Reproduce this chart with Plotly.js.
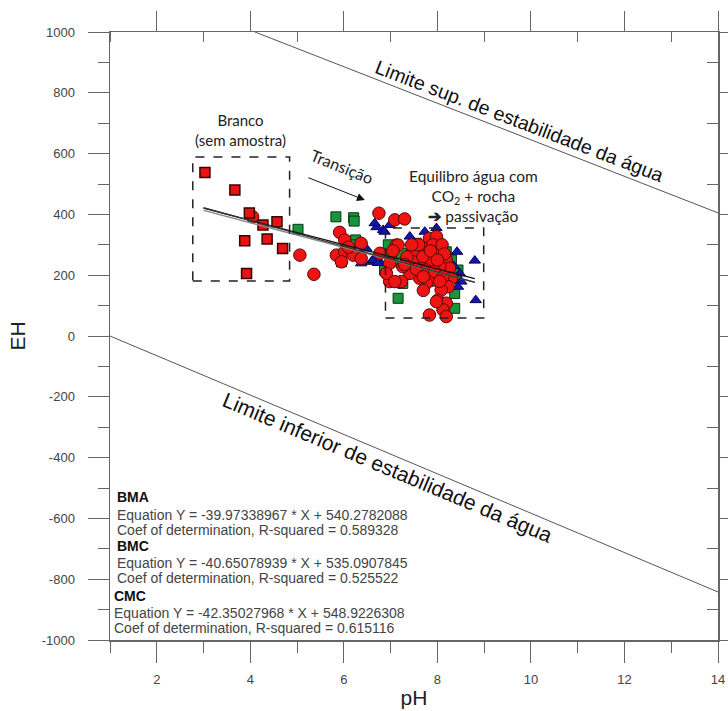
<!DOCTYPE html>
<html>
<head>
<meta charset="utf-8">
<script src="https://cdn.plot.ly/plotly-3.0.1.min.js"></script>
<style>html,body{margin:0;padding:0;background:#fff;}#chart{width:728px;height:711px;}</style>
</head>
<body>
<div id="chart"></div>
<script>
// ---- data (pH, EH in mV) ----
const brancoPH = [3.03, 3.67, 3.98, 4.27, 4.57, 3.88, 4.36, 4.69, 3.92];
const brancoEH = [538, 480, 405, 365, 376, 313, 319, 288, 206];

const bmcPH = [5.02, 5.83, 6.21, 6.22, 6.25, 6.15, 5.95, 6.91, 7.05, 7.16, 6.87, 6.98, 7.23, 7.55, 8.19, 8.37, 8.44, 8.37, 8.30, 7.80, 7.26, 6.95, 8.40];
const bmcEH = [351, 392, 389, 378, 316, 300, 244, 212, 244, 124, 217, 272, 272, 305, 277, 91, 217, 140, 250, 180, 173, 300, 190];

const bmaPH = [6.70, 6.84, 6.98, 6.48, 6.37, 6.59, 6.77, 6.62, 6.73, 7.41, 7.73, 8.42, 8.80, 8.82, 8.48, 8.51, 8.44, 6.66, 6.87, 7.98, 8.35];
const bmaEH = [358, 349, 365, 288, 239, 244, 244, 250, 240, 327, 343, 277, 248, 118, 206, 179, 162, 371, 343, 355, 230];

const cmcPH = [4.05, 5.06, 5.36, 5.91, 6.02, 6.37, 5.84, 6.02, 6.20, 6.37, 5.95, 6.10, 6.77, 6.98, 7.12, 6.75, 7.09, 7.30,
  7.16, 7.48, 7.83, 7.98, 7.73, 8.01, 8.19, 8.26, 8.30, 8.23, 8.08, 7.94, 7.76, 7.62, 7.41, 7.26, 6.98, 7.23, 7.62, 7.87,
  8.05, 7.48, 7.69, 7.76, 7.94, 8.12, 8.01, 8.19, 8.12, 8.19, 7.83, 7.90, 7.60, 8.10, 7.35, 7.55, 7.85, 8.15, 7.70, 8.00,
  7.45, 6.91, 7.09, 7.98, 7.30, 7.05, 7.70, 8.05];
const cmcEH = [392, 266, 203, 341, 316, 305, 266, 277, 266, 255, 244, 292, 272, 239, 299, 404, 382, 385,
  299, 277, 321, 327, 288, 283, 250, 223, 190, 162, 151, 184, 173, 190, 206, 228, 179, 179, 239, 250,
  228, 244, 261, 217, 212, 195, 118, 108, 86, 64, 69, 300, 300, 300, 260, 220, 280, 270, 195, 250,
  300, 206, 179, 113, 235, 280, 150, 180];

// regression fits (printed equations)
const fitNames = ["BMA", "BMC", "CMC"];
const fitSlope = [-39.97338967, -40.65078939, -42.35027968];
const fitIntercept = [540.2782088, 535.0907845, 548.9226308];
const fitR2 = [0.589328, 0.525522, 0.615116];
const fitRange = [3.0, 8.8];

// water stability limits
const upperPH = [4.1, 14];
const upperEH = [1000, 405];
const lowerPH = [1, 14];
const lowerEH = [0, -842];

// axis ticks
const xMajor = [2, 4, 6, 8, 10, 12, 14];
const xMinor = [1, 3, 5, 7, 9, 11, 13];
const yMajor = [-1000, -800, -600, -400, -200, 0, 200, 400, 600, 800, 1000];
const yMinor = [-900, -700, -500, -300, -100, 100, 300, 500, 700, 900];

// ---- traces ----
const axisCol = '#666';
const traces = [];
traces.push({x: upperPH, y: upperEH, mode: 'lines', line: {color: '#555', width: 1}, hoverinfo: 'skip', showlegend: false});
traces.push({x: lowerPH, y: lowerEH, mode: 'lines', line: {color: '#555', width: 1}, hoverinfo: 'skip', showlegend: false});
traces.push({x: bmcPH, y: bmcEH, mode: 'markers', name: 'BMC', showlegend: false,
  marker: {symbol: 'square', size: 10, color: '#17953a', line: {color: '#0b3314', width: 1}}});
traces.push({x: bmaPH, y: bmaEH, mode: 'markers', name: 'BMA', showlegend: false,
  marker: {symbol: 'triangle-up', size: 10, color: '#1414b4', line: {color: '#05054a', width: 1}}});
traces.push({x: cmcPH, y: cmcEH, mode: 'markers', name: 'CMC', showlegend: false,
  marker: {symbol: 'circle', size: 12.5, color: '#ee1414', line: {color: '#5a0606', width: 1}}});
traces.push({x: brancoPH, y: brancoEH, mode: 'markers', name: 'Branco', showlegend: false,
  marker: {symbol: 'square', size: 10, color: '#e81212', line: {color: '#3a0000', width: 1.5}}});
const fitColors = ['#111', '#888', '#333'];
for (let i = 0; i < fitNames.length; i++) {
  traces.push({x: fitRange, y: fitRange.map(v => fitSlope[i] * v + fitIntercept[i]), mode: 'lines',
    name: fitNames[i] + ' fit', showlegend: false, line: {color: fitColors[i], width: 1.3}, hoverinfo: 'skip'});
}
// dummy trace to activate secondary (top/right) axes
traces.push({x: [1], y: [-1000], xaxis: 'x2', yaxis: 'y2', mode: 'markers', marker: {opacity: 0}, hoverinfo: 'skip', showlegend: false});

// ---- layout helpers ----
const plotTop = 32, plotBottom = 640;
const py = p => (plotBottom - p) / (plotBottom - plotTop); // pixel row -> paper y
const fontA = 'Arial, "Liberation Sans", sans-serif';
const fontC = 'Lato, "Open Sans", sans-serif';

const annotations = [];
// regression legend text
const legendRows = [497, 515, 530, 546, 563, 578, 596, 613, 628];
const legendX = [0.008, 0.008, 0.008, 0.008, 0.008, 0.008, 0.003, 0.003, 0.003];
let r = 0;
for (let i = 0; i < fitNames.length; i++) {
  const lines = ['<b>' + fitNames[i] + '</b>',
    'Equation Y = ' + fitSlope[i].toFixed(8) + ' * X + ' + fitIntercept[i].toFixed(7),
    'Coef of determination, R-squared = ' + fitR2[i].toFixed(6)];
  for (const t of lines) {
    annotations.push({xref: 'paper', yref: 'paper', x: legendX[r], y: py(legendRows[r]), xanchor: 'left', yanchor: 'middle',
      text: t, showarrow: false, font: {family: fontA, size: 14, color: t.startsWith('<b>') ? '#111' : '#444'}});
    r++;
  }
}
annotations.push({xref: 'x', yref: 'y', x: 3.78, y: 678, text: 'Branco<br>(sem amostra)', showarrow: false,
  font: {family: fontC, size: 15, color: '#222'}, align: 'center'});
annotations.push({xref: 'x', yref: 'y', x: 8.77, y: 462, text: 'Equilibro água com<br>CO<sub>2</sub> + rocha<br><b>➔</b> passivação', showarrow: false,
  font: {family: fontC, size: 15.5, color: '#222'}, align: 'center'});
annotations.push({xref: 'x', yref: 'y', x: 5.97, y: 556, text: 'Transição', textangle: 22, showarrow: false,
  font: {family: fontC, size: 16, color: '#222'}});
annotations.push({xref: 'x', yref: 'y', x: 6.45, y: 447, ax: -58, ay: -23, text: '', showarrow: true,
  arrowhead: 2, arrowsize: 1.6, arrowwidth: 1, arrowcolor: '#111'});
annotations.push({xref: 'x', yref: 'y', x: 9.76, y: 707, text: 'Limite sup. de estabilidade da água', textangle: 21, showarrow: false,
  font: {family: fontA, size: 19.5, color: '#111'}});
annotations.push({xref: 'x', yref: 'y', x: 6.94, y: -433, text: 'Limite inferior de estabilidade da água', textangle: 22.8, showarrow: false,
  font: {family: fontA, size: 21, color: '#111'}});

const shapes = [
  {type: 'rect', xref: 'x', yref: 'y', x0: 2.77, x1: 4.84, y0: 181, y1: 589, line: {color: '#222', width: 1.5, dash: 'dash'}},
  {type: 'rect', xref: 'x', yref: 'y', x0: 6.89, x1: 8.99, y0: 59, y1: 355, line: {color: '#222', width: 1.5, dash: 'dash'}}
];

const tickFont = {family: fontA, size: 13, color: '#444'};
const layout = {
  width: 728, height: 711,
  margin: {l: 110, r: 10, t: 32, b: 71},
  paper_bgcolor: '#fff', plot_bgcolor: '#fff',
  showlegend: false,
  xaxis: {range: [1, 14], tickmode: 'array', tickvals: xMajor, ticktext: xMajor.map(String),
    ticks: 'outside', ticklen: 21, tickwidth: 1, tickcolor: axisCol, ticklabelstandoff: 6,
    minor: {tickmode: 'array', tickvals: xMinor, ticks: 'outside', ticklen: 11, tickwidth: 1, tickcolor: axisCol},
    showline: true, linecolor: axisCol, linewidth: 1.5, showgrid: false, zeroline: false, tickfont: tickFont,
    title: {text: 'pH', font: {family: fontA, size: 21, color: '#222'}, standoff: 4}},
  xaxis2: {range: [1, 14], overlaying: 'x', side: 'top', tickmode: 'array', tickvals: xMajor, showticklabels: false,
    ticks: 'outside', ticklen: 20, tickwidth: 1, tickcolor: axisCol,
    minor: {tickmode: 'array', tickvals: xMinor, ticks: 'inside', ticklen: 10, tickwidth: 1, tickcolor: axisCol},
    showline: true, linecolor: axisCol, linewidth: 1.5, showgrid: false, zeroline: false},
  yaxis: {range: [-1000, 1000], tickmode: 'array', tickvals: yMajor, ticktext: yMajor.map(String),
    ticks: 'outside', ticklen: 21, tickwidth: 1, tickcolor: axisCol, ticklabelstandoff: 10,
    minor: {tickmode: 'array', tickvals: yMinor, ticks: 'outside', ticklen: 11, tickwidth: 1, tickcolor: axisCol},
    showline: true, linecolor: axisCol, linewidth: 1.5, showgrid: false, zeroline: false, tickfont: tickFont,
    title: {text: 'EH', font: {family: fontA, size: 21, color: '#222'}, standoff: 10}},
  yaxis2: {range: [-1000, 1000], overlaying: 'y', side: 'right', tickmode: 'array', tickvals: yMajor, showticklabels: false,
    ticks: 'outside', ticklen: 12, tickwidth: 1, tickcolor: axisCol,
    minor: {tickmode: 'array', tickvals: yMinor, ticks: 'inside', ticklen: 11, tickwidth: 1, tickcolor: axisCol},
    showline: true, linecolor: axisCol, linewidth: 1.5, showgrid: false, zeroline: false},
  annotations: annotations,
  shapes: shapes
};

Plotly.newPlot('chart', traces, layout, {displayModeBar: false, staticPlot: true});
</script>
</body>
</html>
